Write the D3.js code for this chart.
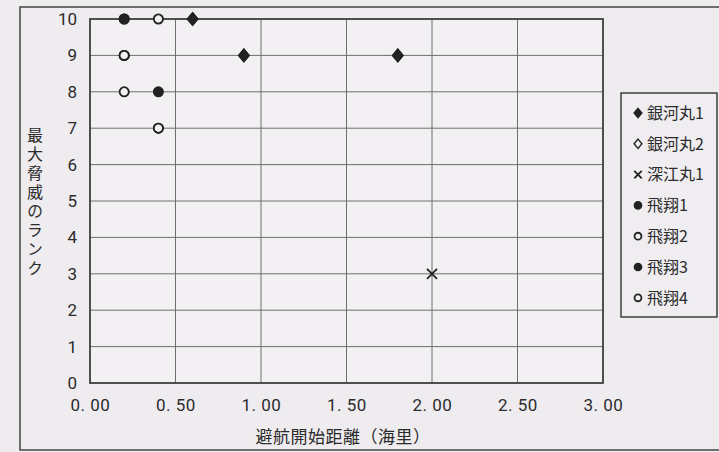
<!DOCTYPE html>
<html><head><meta charset="utf-8">
<script src="https://cdn.jsdelivr.net/npm/d3@7"></script>
<style>
html,body{margin:0;padding:0;background:#efecf0;}
svg{display:block;}
</style></head>
<body><svg id="c" width="719" height="452"></svg>
<script>
// ---- data ----
const seriesNames = ["銀河丸1","銀河丸2","深江丸1","飛翔1","飛翔2","飛翔3","飛翔4"];
const ginga1 = [[0.6,10],[0.9,9],[1.8,9]];
const ginga2 = [[0.6,10],[0.9,9],[1.8,9]];
const fukae1 = [[2.0,3]];
const hisho1 = [[0.2,10],[0.4,8]];
const hisho2 = [[0.4,10],[0.2,9],[0.4,7]];
const hisho3 = [[0.2,10],[0.2,9],[0.4,7]];
const hisho4 = [[0.2,8],[0.2,9]];
const xTicks = [0,0.5,1,1.5,2,2.5,3];
const xTickLabels = ["0. 00","0. 50","1. 00","1. 50","2. 00","2. 50","3. 00"];
const yTicks = [0,1,2,3,4,5,6,7,8,9,10];
const xTitle = "避航開始距離（海里）";
const yTitle = "最大脅威のランク";

const seriesData = [ginga1, ginga2, fukae1, hisho1, hisho2, hisho3, hisho4];
const markerType = ["diamondFilled","diamondOpen","cross","circleFilled","circleOpen","circleFilled","circleOpen"];
const drawOrder = [1,0,2,3,5,4,6];

const svg = d3.select("#c");
const L=90, R=603, T=19, B=383;
const x = d3.scaleLinear().domain([0,3]).range([L,R]);
const y = d3.scaleLinear().domain([0,10]).range([B,T]);
const num = "'Liberation Sans Narrow','Arial Narrow','Roboto','Liberation Sans',sans-serif";
const jp = "'Noto Sans CJK JP','Noto Sans CJK SC',sans-serif";
const ink = "#222";
const txt = "#2b2b2b";

// outer frame
svg.append("rect").attr("x",20).attr("y",7).attr("width",720).attr("height",443)
  .attr("fill","none").attr("stroke","#444").attr("stroke-width",1.5);
svg.append("rect").attr("x",L).attr("y",T).attr("width",R-L).attr("height",B-T).attr("fill","#f2f0f3");

// grid
const g = svg.append("g");
g.selectAll(".hg").data(yTicks.filter(d=>d>0&&d<10)).join("line")
  .attr("x1",L).attr("x2",R).attr("y1",d=>y(d)).attr("y2",d=>y(d))
  .attr("stroke","#6e6e6e").attr("stroke-width",1);
g.selectAll(".vg").data(xTicks.filter(d=>d>0&&d<3)).join("line")
  .attr("y1",T).attr("y2",B).attr("x1",d=>x(d)).attr("x2",d=>x(d))
  .attr("stroke","#6e6e6e").attr("stroke-width",1);
svg.append("rect").attr("x",L).attr("y",T).attr("width",R-L).attr("height",B-T)
  .attr("fill","none").attr("stroke","#333").attr("stroke-width",1.7);

// axes
const xa = svg.append("g").attr("transform",`translate(0,${B})`)
  .call(d3.axisBottom(x).tickValues(xTicks).tickSize(0).tickPadding(16)
    .tickFormat((d,i)=>xTickLabels[i]));
xa.select(".domain").remove();
xa.selectAll("text").attr("font-family",num).attr("font-size",17).attr("fill",txt).attr("letter-spacing",0.5);
const ya = svg.append("g").attr("transform",`translate(${L},0)`)
  .call(d3.axisLeft(y).tickValues(yTicks).tickSize(0).tickPadding(13).tickFormat(d3.format("d")));
ya.select(".domain").remove();
ya.selectAll("text").attr("font-family",num).attr("font-size",17).attr("fill",txt);

// titles
svg.append("text").attr("x",343).attr("y",443).attr("text-anchor","middle")
  .attr("font-family",jp).attr("font-size",17).attr("letter-spacing",0.5).attr("fill",txt).text(xTitle);
svg.append("text").attr("x",35).attr("y",203).attr("text-anchor","middle")
  .attr("writing-mode","vertical-rl").style("text-orientation","upright")
  .attr("font-family",jp).attr("font-size",16).attr("letter-spacing",3).attr("fill",txt).text(yTitle);

// markers
function drawMarker(sel, type, scale){
  const s = scale||1;
  if(type.startsWith("diamond")){
    const w=5.2*s, h=6.2*s;
    sel.append("path").attr("d",`M0,${-h}L${w},0L0,${h}L${-w},0Z`)
      .attr("fill", type==="diamondFilled"?ink:"#f2f0f3").attr("stroke",ink).attr("stroke-width",1.4);
  } else if(type==="cross"){
    const r=5*s;
    sel.append("path").attr("d",`M${-r},${-r}L${r},${r}M${-r},${r}L${r},${-r}`)
      .attr("stroke",ink).attr("stroke-width",1.8).attr("fill","none");
  } else {
    sel.append("circle").attr("r",4.6*s)
      .attr("fill", type==="circleFilled"?ink:"#f2f0f3").attr("stroke",ink).attr("stroke-width",1.8);
  }
}
const pg = svg.append("g");
drawOrder.forEach(i=>{
  pg.selectAll(null).data(seriesData[i]).join("g")
    .attr("transform",d=>`translate(${x(d[0])},${y(d[1])})`)
    .each(function(){ drawMarker(d3.select(this), markerType[i]); });
});

// legend
const lg = svg.append("g");
lg.append("rect").attr("x",621).attr("y",93).attr("width",96).attr("height",224)
  .attr("fill","#f0edf1").attr("stroke","#333").attr("stroke-width",1.4);
seriesNames.forEach((n,i)=>{
  const yy = 113 + i*30.8;
  const m = lg.append("g").attr("transform",`translate(638,${yy})`);
  drawMarker(m, markerType[i], 0.75);
  lg.append("text").attr("x",647).attr("y",yy).attr("dy","0.36em")
    .attr("font-family",jp).attr("font-size",16).attr("fill",txt).text(n);
});
</script></body></html>
